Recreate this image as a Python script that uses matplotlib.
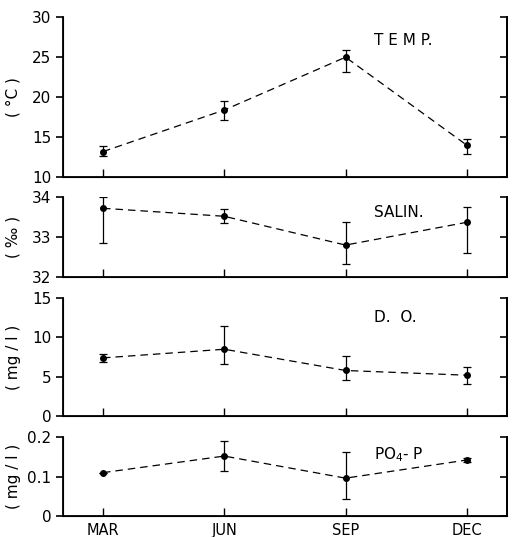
import numpy as np
import matplotlib
matplotlib.use("Agg")
import matplotlib.pyplot as plt

months = ["MAR", "JUN", "SEP", "DEC"]

temp = [13.2, 18.4, 25.0, 14.0]
temp_lo = [12.6, 17.1, 23.1, 12.9]
temp_hi = [13.9, 19.5, 25.9, 14.8]

salin = [33.72, 33.52, 32.8, 33.37]
salin_lo = [32.85, 33.35, 32.32, 32.6]
salin_hi = [34.0, 33.7, 33.37, 33.75]

do = [7.4, 8.5, 5.8, 5.2]
do_lo = [6.9, 6.6, 4.6, 4.1]
do_hi = [7.9, 11.4, 7.7, 6.2]

po4 = [0.11, 0.152, 0.096, 0.142]
po4_lo = [0.11, 0.114, 0.043, 0.137]
po4_hi = [0.11, 0.19, 0.162, 0.147]

panels = [
    (temp, temp_lo, temp_hi, "T E M P.", "( °C )", (10, 30), [10, 15, 20, 25, 30], ["10", "15", "20", "25", "30"]),
    (salin, salin_lo, salin_hi, "SALIN.", "( ‰ )", (32, 34), [32, 33, 34], ["32", "33", "34"]),
    (do, do_lo, do_hi, "D.  O.", "( mg / l )", (0, 15), [0, 5, 10, 15], ["0", "5", "10", "15"]),
    (po4, po4_lo, po4_hi, "PO$_4$- P", "( mg / l )", (0, 0.2), [0, 0.1, 0.2], ["0", "0.1", "0.2"]),
]

# axes boxes in figure fractions (left, bottom, width, height)
boxes = [
    (0.123, 0.670, 0.867, 0.298),
    (0.123, 0.484, 0.867, 0.149),
    (0.123, 0.225, 0.867, 0.220),
    (0.123, 0.039, 0.867, 0.147),
]

fig = plt.figure(figsize=(5.12, 5.37), dpi=100)
x = np.arange(len(months))

for i, (vals, lo, hi, title, ylab, ylim, yt, ytl) in enumerate(panels):
    ax = fig.add_axes(boxes[i])
    vals = np.array(vals)
    err = [vals - np.array(lo), np.array(hi) - vals]
    ax.errorbar(x, vals, yerr=err, fmt="o", color="black", ms=4, capsize=3,
                elinewidth=0.9, capthick=0.9)
    ax.plot(x, vals, ls=(0, (6, 4)), color="black", lw=0.9)
    ax.set_xlim(-0.33, 3.33)
    ax.set_ylim(*ylim)
    ax.set_yticks(yt)
    ax.set_yticklabels(ytl)
    ax.set_xticks(x)
    if i == 3:
        ax.set_xticklabels(months)
    else:
        ax.set_xticklabels([])
    ax.spines["top"].set_visible(False)
    for s in ["left", "right", "bottom"]:
        ax.spines[s].set_linewidth(1.3)
    ax.tick_params(axis="y", direction="out", length=5, width=1.2, labelsize=11)
    ax.tick_params(axis="x", direction="in", length=6, width=1, labelsize=10.5, pad=5)
    ax.set_ylabel(ylab, fontsize=11, labelpad=6)
    ax.yaxis.set_label_coords(-0.095, 0.5)
    ax.text(0.70, 0.90, title, transform=ax.transAxes, fontsize=11, va="top", ha="left")

    # right side ticks point inward
    axr = ax.twinx()
    axr.set_ylim(*ylim)
    axr.set_yticks(yt)
    axr.set_yticklabels([])
    axr.spines["top"].set_visible(False)
    axr.spines["right"].set_linewidth(1.3)
    axr.tick_params(axis="y", direction="in", length=5, width=1.2)

fig.savefig("out.png", dpi=100)
